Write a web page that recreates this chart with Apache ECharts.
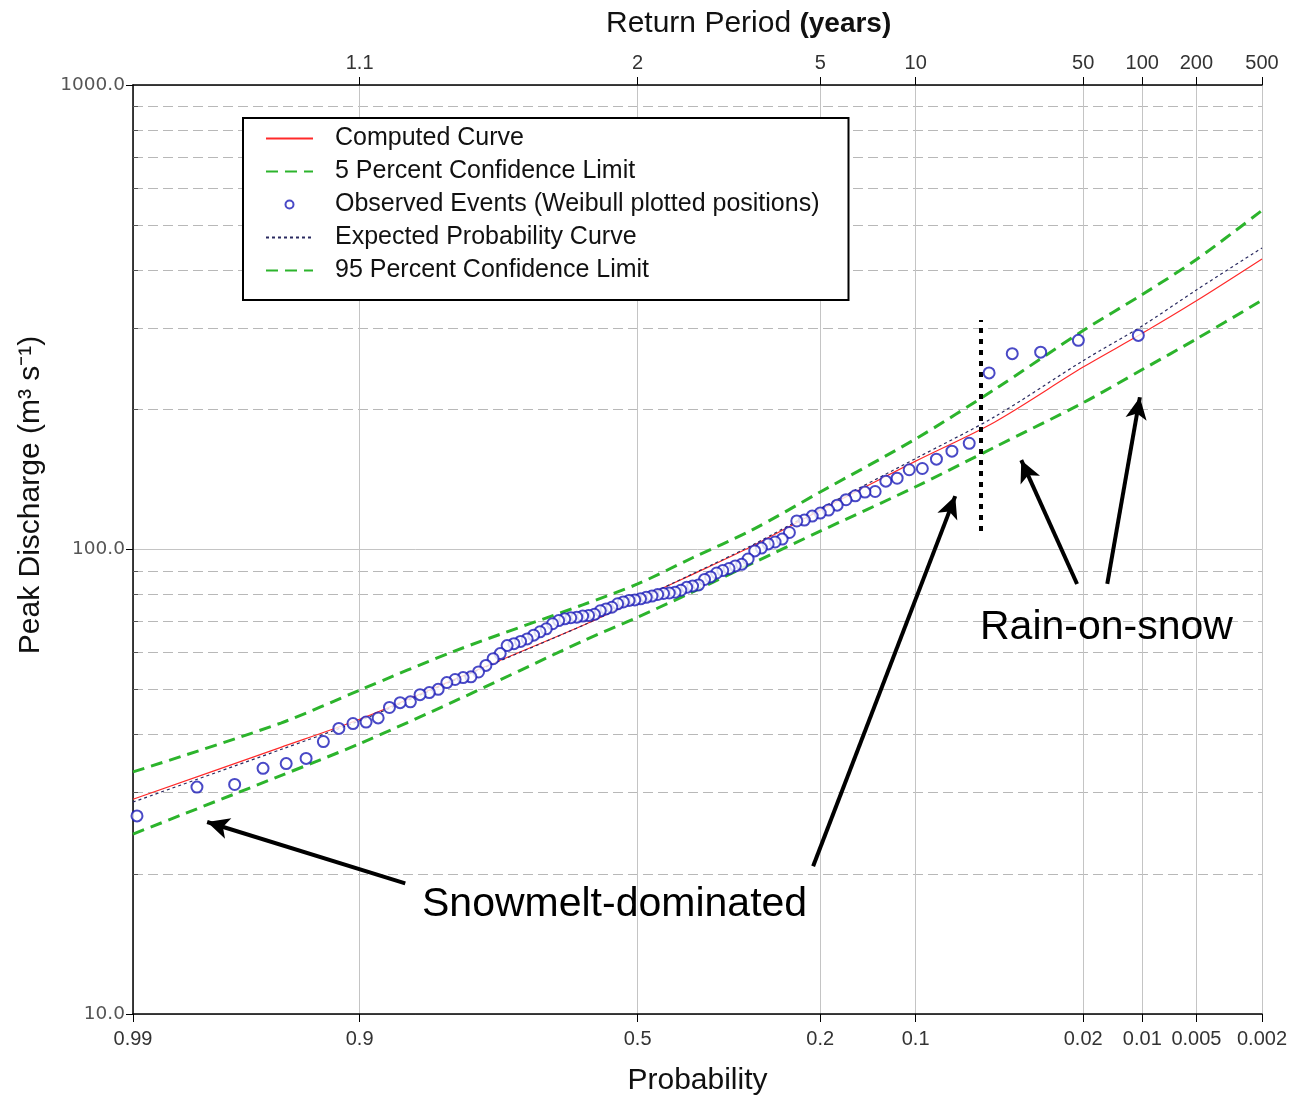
<!DOCTYPE html>
<html>
<head>
<meta charset="utf-8">
<script src="https://cdn.jsdelivr.net/npm/echarts@6/dist/echarts.min.js"></script>
<style>
html,body{margin:0;padding:0;background:#fff;}
#chart{width:1302px;height:1101px;}
</style>
</head>
<body>
<div id="chart"></div>
<script>
// ---------------- DATA ----------------
// exceedance-probability axis ticks
const probTicks = [0.99, 0.9, 0.5, 0.2, 0.1, 0.02, 0.01, 0.005, 0.002];
const probTickLabels = ['0.99', '0.9', '0.5', '0.2', '0.1', '0.02', '0.01', '0.005', '0.002'];
// return-period (top) axis ticks, placed at their exceedance probability
const returnTickProbs = [0.9, 0.5, 0.2, 0.1, 0.02, 0.01, 0.005, 0.002];
const returnTickLabels = ['1.1', '2', '5', '10', '50', '100', '200', '500'];
// minor (dashed) discharge grid values
const minorDischarge = [20, 30, 40, 50, 60, 70, 80, 90, 200, 300, 400, 500, 600, 700, 800, 900];

// fitted curves, read at these exceedance probabilities
const curveProbs = [0.99, 0.95, 0.9, 0.8, 0.6, 0.5, 0.4, 0.3, 0.2, 0.1, 0.05, 0.02, 0.01, 0.005, 0.002];
const computedCurve = [29.0, 37.5, 43.1, 52.6, 68.6, 78.0, 88.4, 101.5, 121.5, 155, 188, 247, 292, 343, 422];
const expectedCurve = [28.6, 37.1, 42.8, 52.4, 68.6, 78.0, 88.6, 102, 122.5, 157, 193, 255, 303, 362, 446];
const conf5Curve = [33.2, 42.3, 49.8, 60.5, 76.0, 84.3, 96.0, 110, 133, 173, 221, 296, 354, 421, 537];
const conf95Curve = [24.4, 32.6, 38.2, 47.2, 63.5, 71.5, 81.0, 93.2, 109.5, 136.5, 166, 207, 244, 284, 344];

// observed events: Weibull plotting positions and peak discharge (m3/s)
const obsProbs = [0.0105, 0.0211, 0.0316, 0.0421, 0.0526, 0.0632, 0.0737, 0.0842, 0.0947, 0.1053,
  0.1158, 0.1263, 0.1368, 0.1474, 0.1579, 0.1684, 0.1789, 0.1895, 0.2000, 0.2105,
  0.2211, 0.2316, 0.2421, 0.2526, 0.2632, 0.2737, 0.2842, 0.2947, 0.3053, 0.3158,
  0.3263, 0.3368, 0.3474, 0.3579, 0.3684, 0.3789, 0.3895, 0.4000, 0.4105, 0.4211,
  0.4316, 0.4421, 0.4526, 0.4632, 0.4737, 0.4842, 0.4947, 0.5053, 0.5158, 0.5263,
  0.5368, 0.5474, 0.5579, 0.5684, 0.5789, 0.5895, 0.6000, 0.6105, 0.6211, 0.6316,
  0.6421, 0.6526, 0.6632, 0.6737, 0.6842, 0.6947, 0.7053, 0.7158, 0.7263, 0.7368,
  0.7474, 0.7579, 0.7684, 0.7789, 0.7895, 0.8000, 0.8105, 0.8211, 0.8316, 0.8421,
  0.8526, 0.8632, 0.8737, 0.8842, 0.8947, 0.9053, 0.9158, 0.9263, 0.9368, 0.9474,
  0.9579, 0.9684, 0.9789, 0.9895];
const obsDischarge = [289, 282, 266, 264, 240, 169.3, 162.8, 156.5, 149.4, 148.5,
  142.4, 140.3, 133.3, 132.9, 130.5, 128.0, 124.6, 121.6, 119.8, 118.0,
  115.7, 115.2, 108.8, 105.3, 103.8, 102.8, 100.7, 99.3, 95.4, 92.9,
  92.2, 91.0, 90.1, 89.0, 87.3, 86.2, 83.9, 83.4, 82.9, 81.7,
  80.9, 80.6, 80.4, 80.0, 79.4, 78.9, 78.3, 77.9, 77.7, 77.1,
  76.4, 75.1, 74.5, 73.8, 72.5, 72.1, 71.9, 71.5, 71.3, 70.9,
  70.3, 69.2, 67.5, 66.5, 65.4, 64.2, 63.4, 62.7, 62.1, 59.7,
  58.2, 56.3, 54.5, 53.2, 53.0, 52.5, 51.7, 50.0, 49.2, 48.7,
  47.0, 46.8, 45.7, 43.4, 42.5, 42.2, 41.2, 38.6, 35.5, 34.6,
  33.8, 31.2, 30.8, 26.7];

// annotations: arrows [tailProb, tailQ, headProb, headQ]
const arrows = [
  [0.858, 19.1, 0.9764, 25.9],
  [0.2093, 20.8, 0.0716, 130.3],
  [0.0214, 84.3, 0.0385, 155.7],
  [0.0152, 84.3, 0.0103, 212.7]
];
const dividerProb = 0.0567;
const dividerRange = [109.6, 312];

// ---------------- helpers ----------------
function norminv(p) {
  const a = [-3.969683028665376e+01, 2.209460984245205e+02, -2.759285104469687e+02, 1.383577518672690e+02, -3.066479806614716e+01, 2.506628277459239e+00];
  const b = [-5.447609879822406e+01, 1.615858368580409e+02, -1.556989798598866e+02, 6.680131188771972e+01, -1.328068155288572e+01];
  const c = [-7.784894002430293e-03, -3.223964580411365e-01, -2.400758277161838e+00, -2.549732539343734e+00, 4.374664141464968e+00, 2.938163982698783e+00];
  const d = [7.784695709041462e-03, 3.224671290700398e-01, 2.445134137142996e+00, 3.754408661907416e+00];
  const pl = 0.02425, ph = 1 - pl;
  let q, r;
  if (p < pl) {
    q = Math.sqrt(-2 * Math.log(p));
    return (((((c[0]*q+c[1])*q+c[2])*q+c[3])*q+c[4])*q+c[5]) / ((((d[0]*q+d[1])*q+d[2])*q+d[3])*q+1);
  }
  if (p <= ph) {
    q = p - 0.5; r = q * q;
    return (((((a[0]*r+a[1])*r+a[2])*r+a[3])*r+a[4])*r+a[5])*q / (((((b[0]*r+b[1])*r+b[2])*r+b[3])*r+b[4])*r+1);
  }
  q = Math.sqrt(-2 * Math.log(1 - p));
  return -(((((c[0]*q+c[1])*q+c[2])*q+c[3])*q+c[4])*q+c[5]) / ((((d[0]*q+d[1])*q+d[2])*q+d[3])*q+1);
}
// exceedance probability -> normal-probability axis position
function zOf(p) { return -norminv(p); }

const probTickZ = probTicks.map(zOf);
const returnTickZ = returnTickProbs.map(zOf);
const xMin = zOf(0.99), xMax = zOf(0.002);

function labelFor(zs, labels) {
  return function (v) {
    for (let i = 0; i < zs.length; i++) if (Math.abs(zs[i] - v) < 1e-6) return labels[i];
    return '';
  };
}
function pairs(probs, vals) { return probs.map((p, i) => [zOf(p), vals[i]]); }

const FONT = 'Liberation Sans, Arial, sans-serif';
const GREEN = '#2cb42c';
const HIDE_SYMBOL = { opacity: 0 };

const chart = echarts.init(document.getElementById('chart'), null, {renderer: 'canvas'});

const option = {
  backgroundColor: '#fff',
  animation: false,
  title: {
    text: 'Return Period {b|(years)}',
    left: 601, top: 4,
    textStyle: {
      fontFamily: FONT, fontSize: 30, fontWeight: 'normal', color: '#111',
      rich: { b: { fontFamily: FONT, fontSize: 28, fontWeight: 'bold', color: '#111' } }
    }
  },
  grid: { left: 133, right: 40, top: 85, bottom: 85, containLabel: false },
  legend: {
    orient: 'vertical', left: 243, top: 118,
    padding: [8, 29, 17, 22], itemGap: 8, itemWidth: 47, itemHeight: 8,
    borderColor: '#000', borderWidth: 2, backgroundColor: '#fff',
    textStyle: { fontFamily: FONT, fontSize: 25, color: '#111', padding: [0, 0, 0, 17] },
    data: [
      { name: 'Computed Curve', itemStyle: HIDE_SYMBOL },
      { name: '5 Percent Confidence Limit', itemStyle: HIDE_SYMBOL },
      { name: 'Observed Events (Weibull plotted positions)' },
      { name: 'Expected Probability Curve', itemStyle: HIDE_SYMBOL },
      { name: '95 Percent Confidence Limit', itemStyle: HIDE_SYMBOL }
    ]
  },
  xAxis: [
    {
      type: 'value', position: 'bottom', min: xMin, max: xMax,
      name: 'Probability', nameLocation: 'middle', nameGap: 52,
      nameTextStyle: { fontFamily: FONT, fontSize: 30, color: '#111' },
      axisLine: { show: true, onZero: false, lineStyle: { color: '#000', width: 1.5 } },
      axisTick: { show: true, length: 8, customValues: probTickZ, lineStyle: { color: '#000' } },
      axisLabel: { customValues: probTickZ, formatter: labelFor(probTickZ, probTickLabels),
        fontFamily: FONT, fontSize: 20, color: '#333', margin: 15 },
      splitLine: { show: true, lineStyle: { color: '#c4c4c4', width: 1 } }
    },
    {
      type: 'value', position: 'top', min: xMin, max: xMax,
      axisLine: { show: true, onZero: false, lineStyle: { color: '#000', width: 1.5 } },
      axisTick: { show: true, length: 8, customValues: returnTickZ, lineStyle: { color: '#000' } },
      axisLabel: { customValues: returnTickZ, formatter: labelFor(returnTickZ, returnTickLabels),
        fontFamily: FONT, fontSize: 20, color: '#333', margin: 12 },
      splitLine: { show: false }
    }
  ],
  yAxis: [
    {
      type: 'log', logBase: 10, min: 10, max: 1000, position: 'left',
      axisLine: { show: true, onZero: false, lineStyle: { color: '#000', width: 1.5 } },
      axisTick: { show: true, length: 7, lineStyle: { color: '#000' } },
      axisLabel: { formatter: v => Number(v).toFixed(1), fontFamily: 'DejaVu Sans, sans-serif',
        fontSize: 18.5, color: '#555', margin: 8 },
      splitLine: { show: true, lineStyle: { color: '#c4c4c4', width: 1 } }
    },
    {
      type: 'log', logBase: 10, min: 10, max: 1000, position: 'left',
      axisLine: { show: false, onZero: false },
      axisLabel: { show: false },
      axisTick: { show: true, inside: true, length: 5, customValues: minorDischarge, lineStyle: { color: '#555' } },
      splitLine: { show: true, lineStyle: { color: '#b8b8b8', width: 1, type: [10, 5] } }
    }
  ],
  series: [
    {
      name: 'Computed Curve', type: 'line', smooth: 0.3, showSymbol: false, symbol: 'none',
      data: pairs(curveProbs, computedCurve), z: 3,
      lineStyle: { color: '#ff2a2a', width: 1.2 }, itemStyle: { color: '#ff2a2a' }
    },
    {
      name: '5 Percent Confidence Limit', type: 'line', smooth: 0.3, showSymbol: false, symbol: 'none',
      data: pairs(curveProbs, conf5Curve), z: 3,
      lineStyle: { color: GREEN, width: 3, type: [12, 7] }, itemStyle: { color: GREEN }
    },
    {
      name: 'Observed Events (Weibull plotted positions)', type: 'scatter', symbol: 'emptyCircle', symbolSize: 11,
      data: pairs(obsProbs, obsDischarge), z: 5,
      itemStyle: { color: '#1c1cb8', borderColor: '#1c1cb8', borderWidth: 1.3 }
    },
    {
      name: 'Expected Probability Curve', type: 'line', smooth: 0.3, showSymbol: false, symbol: 'none',
      data: pairs(curveProbs, expectedCurve), z: 3,
      lineStyle: { color: '#2a2a60', width: 1.2, type: [3, 3] }, itemStyle: { color: '#2a2a60' }
    },
    {
      name: '95 Percent Confidence Limit', type: 'line', smooth: 0.3, showSymbol: false, symbol: 'none',
      data: pairs(curveProbs, conf95Curve), z: 3,
      lineStyle: { color: GREEN, width: 3, type: [12, 7] }, itemStyle: { color: GREEN }
    },
    {
      name: 'annotations', type: 'line', data: [], silent: true,
      markLine: {
        silent: true, animation: false, label: { show: false },
        data: arrows.map(a => [
          { coord: [zOf(a[0]), a[1]], symbol: 'none',
            lineStyle: { color: '#000', width: 4, type: 'solid' } },
          { coord: [zOf(a[2]), a[3]], symbol: 'arrow', symbolSize: [16, 22] }
        ]).concat([[
          { coord: [zOf(dividerProb), dividerRange[0]], symbol: 'none',
            lineStyle: { color: '#000', width: 4, type: [5, 6], cap: 'butt' } },
          { coord: [zOf(dividerProb), dividerRange[1]], symbol: 'none' }
        ]])
      }
    }
  ],
  graphic: [
    { type: 'text', left: 422, top: 884, z: 100, style: { text: 'Snowmelt-dominated', font: '41px ' + FONT, fill: '#000' } },
    { type: 'text', left: 980, top: 607, z: 100, style: { text: 'Rain-on-snow', font: '41px ' + FONT, fill: '#000' } },
    { type: 'text', x: 31, y: 495, rotation: Math.PI / 2, z: 100,
      style: { text: 'Peak Discharge (m³ s⁻¹)', font: '30px ' + FONT, fill: '#111', align: 'center', verticalAlign: 'middle' } }
  ]
};
chart.setOption(option);
</script>
</body>
</html>
